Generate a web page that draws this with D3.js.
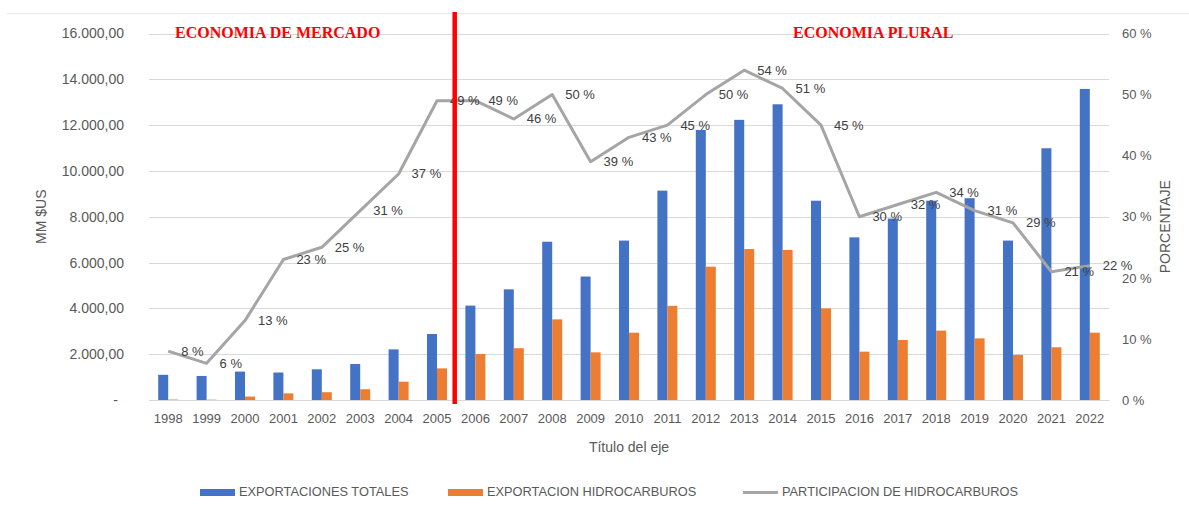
<!DOCTYPE html>
<html><head><meta charset="utf-8">
<script src="https://cdn.jsdelivr.net/npm/d3@7"></script>
<style>body{margin:0;background:#fff}svg{display:block}</style>
</head><body>
<svg id="c" width="1189" height="513"></svg>
<script>
const years = ["1998","1999","2000","2001","2002","2003","2004","2005","2006","2007","2008","2009","2010","2011","2012","2013","2014","2015","2016","2017","2018","2019","2020","2021","2022"];
const totalExports = [1100,1050,1240,1200,1340,1570,2210,2880,4120,4830,6910,5390,6960,9140,11790,12230,12910,8700,7100,7920,8700,8810,6960,10990,13580];
const hydroExports = [20,15,150,290,340,470,800,1380,2010,2260,3520,2080,2940,4110,5820,6590,6550,4000,2110,2620,3030,2690,1970,2300,2940];
const hydroShare = [8,6,13,23,25,31,37,49,49,46,50,39,43,45,50,54,51,45,30,32,34,31,29,21,22];
const leftTicks = [0,2000,4000,6000,8000,10000,12000,14000,16000];
const rightTicks = [0,10,20,30,40,50,60];
const seriesNames = ["EXPORTACIONES TOTALES","EXPORTACION HIDROCARBUROS","PARTICIPACION DE HIDROCARBUROS"];
const periodLabels = ["ECONOMIA DE MERCADO","ECONOMIA PLURAL"];
const axisTitles = {left:"MM $US", right:"PORCENTAJE", x:"Título del eje"};

const colors = {blue:"#4472c4", orange:"#ed7d31", gray:"#a5a5a5", text:"#595959", grid:"#d9d9d9"};
const font = "'Liberation Sans', Arial, sans-serif";
const svg = d3.select("#c");
const L = 149, R = 1109, T = 33.5, B = 400;

const loc = d3.formatLocale({decimal:",", thousands:".", grouping:[3], currency:["",""]});
const fmt = loc.format(",.2f");

const x = d3.scaleBand().domain(years).range([L,R]).paddingInner(0).paddingOuter(0);
const xs = d3.scaleBand().domain(["t","h"]).range([x.bandwidth()/2-10, x.bandwidth()/2+10]);
const y = d3.scaleLinear().domain([0,16000]).range([B,T]);
const y2 = d3.scaleLinear().domain([0,60]).range([B,T]);

// top faint border
svg.append("line").attr("x1",7).attr("x2",1189).attr("y1",13.5).attr("y2",13.5).attr("stroke","#e8e8e8");

// gridlines
svg.append("g").selectAll("line").data(leftTicks).join("line")
  .attr("x1",L).attr("x2",R).attr("y1",d=>Math.round(y(d))+0.5).attr("y2",d=>Math.round(y(d))+0.5)
  .attr("stroke",colors.grid).attr("stroke-width",1);

// left axis
const ga = svg.append("g").attr("transform",`translate(${L-25},0)`)
  .call(d3.axisLeft(y).tickValues(leftTicks).tickSize(0).tickPadding(0).tickFormat(d=>d===0?"-":fmt(d)));
ga.select(".domain").remove();
ga.selectAll("text").attr("font-family",font).attr("font-size",14).attr("fill",colors.text);
ga.selectAll(".tick").filter(d=>d===0).select("text").attr("dx",-6);

// right axis
const gr = svg.append("g").attr("transform",`translate(${R+13},0)`)
  .call(d3.axisRight(y2).tickValues(rightTicks).tickSize(0).tickPadding(0).tickFormat(d=>d+" %"));
gr.select(".domain").remove();
gr.selectAll("text").attr("font-family",font).attr("font-size",13).attr("fill",colors.text);

// x axis
const gx = svg.append("g").attr("transform",`translate(0,${B})`)
  .call(d3.axisBottom(x).tickSize(0).tickPadding(14));
gx.select(".domain").attr("stroke",colors.grid);
gx.selectAll("text").attr("font-family",font).attr("font-size",13).attr("fill",colors.text);

// bars
const g = svg.append("g");
g.selectAll("rect.t").data(years).join("rect").attr("class","t")
  .attr("x",(d)=>x(d)+xs("t")).attr("width",xs.bandwidth())
  .attr("y",(d,i)=>y(totalExports[i])).attr("height",(d,i)=>B-y(totalExports[i]))
  .attr("fill",colors.blue);
g.selectAll("rect.h").data(years).join("rect").attr("class","h")
  .attr("x",(d)=>x(d)+xs("h")).attr("width",xs.bandwidth())
  .attr("y",(d,i)=>y(hydroExports[i])).attr("height",(d,i)=>B-y(hydroExports[i]))
  .attr("fill",colors.orange);

// line
const line = d3.line().x((d,i)=>x(years[i])+x.bandwidth()/2).y(d=>y2(d));
svg.append("path").datum(hydroShare).attr("d",line).attr("fill","none")
  .attr("stroke",colors.gray).attr("stroke-width",3).attr("stroke-linejoin","round");

// line labels
svg.append("g").selectAll("text").data(hydroShare).join("text")
  .attr("x",(d,i)=>x(years[i])+x.bandwidth()/2+13).attr("y",d=>y2(d)+1)
  .attr("dominant-baseline","middle").attr("font-family",font).attr("font-size",13)
  .attr("fill","#404040").text(d=>d+" %");

// red divider at boundary between 2005 and 2006
const divX = x("2006");
svg.append("line").attr("x1",divX-1.5).attr("x2",divX-1.5).attr("y1",12).attr("y2",404)
  .attr("stroke","#ff0000").attr("stroke-width",4.5);

// period labels
svg.append("text").attr("x",175).attr("y",38).attr("font-family","'Liberation Serif', 'Times New Roman', serif")
  .attr("font-weight","bold").attr("font-size",16).attr("fill","#ff0000").text(periodLabels[0]);
svg.append("text").attr("x",793).attr("y",38).attr("font-family","'Liberation Serif', 'Times New Roman', serif")
  .attr("font-weight","bold").attr("font-size",16).attr("fill","#ff0000").text(periodLabels[1]);

// axis titles
svg.append("text").attr("transform",`translate(46,${(T+B)/2}) rotate(-90)`).attr("text-anchor","middle")
  .attr("font-family",font).attr("font-size",14).attr("fill",colors.text).text(axisTitles.left);
svg.append("text").attr("transform",`translate(1170,${(T+B)/2+10}) rotate(-90)`).attr("text-anchor","middle")
  .attr("font-family",font).attr("font-size",14).attr("fill",colors.text).text(axisTitles.right);
svg.append("text").attr("x",(L+R)/2).attr("y",452).attr("text-anchor","middle")
  .attr("font-family",font).attr("font-size",14).attr("fill",colors.text).text(axisTitles.x);

// legend
const legX = [200,448,743];
const lg = svg.append("g");
seriesNames.forEach((n,i)=>{
  if(i<2){
    lg.append("rect").attr("x",legX[i]).attr("y",489).attr("width",35).attr("height",7)
      .attr("fill",i===0?colors.blue:colors.orange);
  } else {
    lg.append("line").attr("x1",legX[i]).attr("x2",legX[i]+35).attr("y1",492.5).attr("y2",492.5)
      .attr("stroke",colors.gray).attr("stroke-width",3);
  }
  lg.append("text").attr("x",legX[i]+39).attr("y",493).attr("dominant-baseline","middle")
    .attr("font-family",font).attr("font-size",12.8).attr("fill",colors.text).text(n);
});
</script>
</body></html>
